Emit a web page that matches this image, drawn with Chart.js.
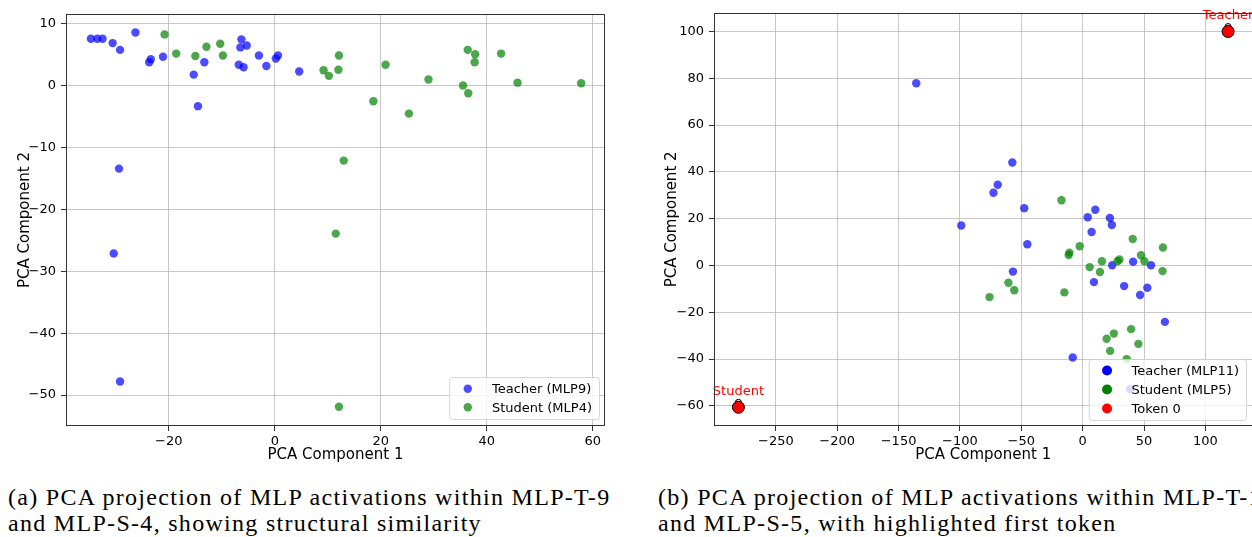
<!DOCTYPE html>
<html>
<head>
<meta charset="utf-8">
<script src="https://cdn.jsdelivr.net/npm/chart.js@4.4.1/dist/chart.umd.min.js"></script>
<style>
html, body { margin: 0; padding: 0; background: #fff; }
body { position: relative; width: 1252px; height: 537px; overflow: hidden; }
.panel { position: absolute; top: 0; }
.cap { position: absolute; font-family: "Liberation Serif", serif; font-size: 24px; letter-spacing: 1.3px; line-height: 26px; color: #000; white-space: nowrap; }
</style>
</head>
<body>
<div class="panel" style="left:0px"><canvas id="pcaA" width="620" height="470"></canvas></div>
<div class="panel" style="left:640px"><canvas id="pcaB" width="630" height="470"></canvas></div>
<div class="cap" style="left:8px; top:484px">(a) PCA projection of MLP activations within MLP-T-9<br>and MLP-S-4, showing structural similarity</div>
<div class="cap" style="left:658px; top:484px">(b) PCA projection of MLP activations within MLP-T-11<br>and MLP-S-5, with highlighted first token</div>
<script>
// ---- panel (a): MLP-T-9 vs MLP-S-4 ----
const teacherA_x = [-34.7, -33.5, -32.5, -30.6, -29.2, -26.3, -23.7, -23.4, -21.1, -15.3, -14.5, -13.3, -6.8, -5.9, -6.3, -6.5, -5.3, -3.0, -1.6, 0.2, 0.6, 4.6, -29.4, -30.4, -29.2];
const teacherA_y = [7.6, 7.6, 7.6, 6.9, 5.8, 8.6, 3.8, 4.3, 4.7, 1.8, -3.3, 3.8, 3.4, 3.0, 7.5, 6.2, 6.5, 4.9, 3.2, 4.4, 4.9, 2.3, -13.4, -27.1, -47.8];
const studentA_x = [-20.8, -18.6, -15.0, -12.9, -10.3, -9.8, 9.2, 10.2, 12.1, 12.0, 20.9, 18.6, 25.3, 29.0, 35.5, 36.5, 36.4, 37.8, 37.7, 42.7, 45.8, 57.8, 13.0, 11.5, 12.1];
const studentA_y = [8.3, 5.2, 4.8, 6.3, 6.8, 4.9, 2.5, 1.6, 4.9, 2.6, 3.4, -2.5, -4.5, 1.0, 0.05, -1.2, 5.8, 5.1, 3.8, 5.2, 0.5, 0.4, -12.1, -23.9, -51.9];
const xTicksA = [-20, 0, 20, 40, 60];
const yTicksA = [10, 0, -10, -20, -30, -40, -50];

// ---- panel (b): MLP-T-11 vs MLP-S-5 ----
const teacherB_x = [-135.6, -98.9, -57.3, -69.2, -72.7, -47.6, -45.1, -56.8, 4.1, 10.3, 22.2, 23.8, 7.3, 24.1, 41.1, 55.7, 9.2, 33.8, 52.7, 46.8, 67.0, -8.1, 20.8, 38.7];
const teacherB_y = [77.9, 17.1, 44.0, 34.5, 31.1, 24.5, 9.1, -2.6, 20.6, 23.8, 20.3, 17.3, 14.3, 0.1, 1.6, 0.1, -7.1, -8.8, -9.5, -12.6, -24.1, -39.3, -52.9, -52.9];
const studentB_x = [-17.3, -2.4, -10.8, -11.4, 15.7, 28.4, 30.0, 5.7, 14.1, 40.8, 65.4, 47.6, 50.3, 65.1, -60.5, -55.7, -75.9, -14.9, 39.5, 25.4, 19.5, 45.4, 22.4, 35.9];
const studentB_y = [27.9, 8.2, 5.5, 4.5, 1.8, 1.8, 2.6, -0.7, -2.8, 11.3, 7.7, 4.4, 1.8, -2.4, -7.4, -10.6, -13.5, -11.5, -27.2, -29.1, -31.3, -33.5, -36.5, -40.0];
const token_x = [-280.5, 118.5];
const token_y = [-60.6, 100.0];
const tokenLabels = ["Student", "Teacher"];
const xTicksB = [-250, -200, -150, -100, -50, 0, 50, 100];
const yTicksB = [100, 80, 60, 40, 20, 0, -20, -40, -60];

const FONT = "DejaVu Sans";
const GRID = "rgba(176,176,176,0.7)";
const BLUE = "rgba(0,0,255,0.7)";
const GREEN = "rgba(0,128,0,0.7)";

function pts(xs, ys) {
    return xs.map((x, i) => ({ x: x, y: ys[i] }));
}
function fmt(v) {
    return v < 0 ? "\u2212" + Math.abs(v) : String(v);
}

function makeScales(xr, yr, xTicks, yTicks, yWidth, yTitlePad) {
    const tickFont = { family: FONT, size: 13 };
    const titleFont = { family: FONT, size: 15 };
    return {
        x: {
            type: "linear", min: xr[0], max: xr[1],
            afterBuildTicks: s => { s.ticks = xTicks.map(v => ({ value: v })); },
            afterFit: s => { s.height = 44; },
            border: { display: false },
            grid: { color: GRID, lineWidth: 1, tickColor: "#333", tickLength: 5 },
            ticks: { callback: fmt, font: tickFont, color: "#000", padding: 3, maxRotation: 0, autoSkip: false },
            title: { display: true, text: "PCA Component 1", font: titleFont, color: "#000", padding: { top: 0, bottom: 6 } }
        },
        y: {
            type: "linear", min: yr[0], max: yr[1],
            afterBuildTicks: s => { s.ticks = yTicks.map(v => ({ value: v })); },
            afterFit: s => { s.width = yWidth; },
            border: { display: false },
            grid: { color: GRID, lineWidth: 1, tickColor: "#333", tickLength: 5 },
            ticks: { callback: fmt, font: tickFont, color: "#000", padding: 5, autoSkip: false },
            title: { display: true, text: "PCA Component 2", font: titleFont, color: "#000", padding: { top: yTitlePad, bottom: 0 } }
        }
    };
}

// frame, legend box and token annotations, drawn over the datasets
function overlay(cfg) {
    return {
        id: "overlay",
        beforeDatasetsDraw(chart) {
            if (cfg.tokenIndex == null) return;
            const ctx = chart.ctx;
            const meta = chart.getDatasetMeta(cfg.tokenIndex);
            ctx.save();
            meta.data.forEach(el => {
                ctx.beginPath();
                ctx.arc(el.x, el.y - 5, 3, 0, Math.PI * 2);
                ctx.fillStyle = "#ddd";
                ctx.fill();
                ctx.lineWidth = 1;
                ctx.strokeStyle = "#000";
                ctx.stroke();
            });
            ctx.restore();
        },
        afterDatasetsDraw(chart) {
            const ctx = chart.ctx;
            const a = chart.chartArea;
            ctx.save();
            if (cfg.tokenIndex != null) {
                const meta = chart.getDatasetMeta(cfg.tokenIndex);
                ctx.font = "13px '" + FONT + "'";
                ctx.fillStyle = "red";
                ctx.textAlign = "center";
                ctx.textBaseline = "middle";
                meta.data.forEach((el, i) => ctx.fillText(tokenLabels[i], el.x, el.y - 16));
            }
            ctx.strokeStyle = "#333";
            ctx.lineWidth = 1;
            ctx.strokeRect(Math.round(a.left) + 0.5, Math.round(a.top) + 0.5, Math.round(a.right - a.left) - 1, Math.round(a.bottom - a.top) - 1);

            const lg = cfg.legend;
            ctx.font = "13px '" + FONT + "'";
            const tw = Math.max(...lg.items.map(it => ctx.measureText(it.label).width));
            const w = lg.padL + lg.gap + tw + lg.padR;
            const h = lg.items.length * lg.rowH + lg.padV * 2;
            const x0 = a.right - lg.right - w;
            const y0 = a.bottom - lg.bottom - h;
            ctx.beginPath();
            ctx.roundRect(x0 + 0.5, y0 + 0.5, w, h, 3);
            ctx.fillStyle = "rgba(255,255,255,0.8)";
            ctx.fill();
            ctx.strokeStyle = "rgba(204,204,204,0.8)";
            ctx.stroke();
            ctx.textAlign = "left";
            ctx.textBaseline = "middle";
            lg.items.forEach((it, i) => {
                const cy = y0 + lg.padV + lg.rowH * (i + 0.5);
                ctx.beginPath();
                ctx.arc(x0 + lg.padL, cy, lg.r, 0, Math.PI * 2);
                ctx.fillStyle = it.color;
                ctx.fill();
                ctx.fillStyle = "#000";
                ctx.fillText(it.label, x0 + lg.padL + lg.gap, cy + 1);
            });
            ctx.restore();
        }
    };
}

function CreateCharts() {
    new Chart(document.getElementById("pcaA"), {
        type: "scatter",
        data: {
            datasets: [
                { label: "Teacher (MLP9)", data: pts(teacherA_x, teacherA_y), backgroundColor: BLUE, borderWidth: 0, pointRadius: 4.2, order: 2 },
                { label: "Student (MLP4)", data: pts(studentA_x, studentA_y), backgroundColor: GREEN, borderWidth: 0, pointRadius: 4.2, order: 1 }
            ]
        },
        options: {
            responsive: false, animation: false, devicePixelRatio: 1,
            layout: { padding: { left: 0, top: 14, right: 15, bottom: 0 } },
            plugins: { legend: { display: false }, tooltip: { enabled: false } },
            scales: makeScales([-39.4, 62.3], [-55.0, 11.6], xTicksA, yTicksA, 66, 16)
        },
        plugins: [overlay({
            legend: {
                right: 6, bottom: 7, padL: 18.6, gap: 24.2, padR: 7, padV: 2.6, rowH: 18.4, r: 4.2,
                items: [{ label: "Teacher (MLP9)", color: BLUE }, { label: "Student (MLP4)", color: GREEN }]
            }
        })]
    });

    new Chart(document.getElementById("pcaB"), {
        type: "scatter",
        data: {
            datasets: [
                { label: "Teacher (MLP11)", data: pts(teacherB_x, teacherB_y), backgroundColor: BLUE, borderWidth: 0, pointRadius: 4.2, order: 2 },
                { label: "Student (MLP5)", data: pts(studentB_x, studentB_y), backgroundColor: GREEN, borderWidth: 0, pointRadius: 4.2, order: 1 },
                { label: "Token 0", data: pts(token_x, token_y), backgroundColor: "red", borderColor: "#000", borderWidth: 1, pointRadius: 6, order: 0 }
            ]
        },
        options: {
            responsive: false, animation: false, devicePixelRatio: 1,
            layout: { padding: { left: 0, top: 12, right: 17.5, bottom: 0 } },
            plugins: { legend: { display: false }, tooltip: { enabled: false } },
            scales: makeScales([-300.4, 138.4], [-68.6, 108.0], xTicksB, yTicksB, 74, 23)
        },
        plugins: [overlay({
            tokenIndex: 2,
            legend: {
                right: 6.5, bottom: 6, padL: 18.3, gap: 24.4, padR: 7, padV: 2, rowH: 19, r: 5,
                items: [{ label: "Teacher (MLP11)", color: "blue" }, { label: "Student (MLP5)", color: "green" }, { label: "Token 0", color: "red" }]
            }
        })]
    });
}

CreateCharts();
</script>
</body>
</html>
